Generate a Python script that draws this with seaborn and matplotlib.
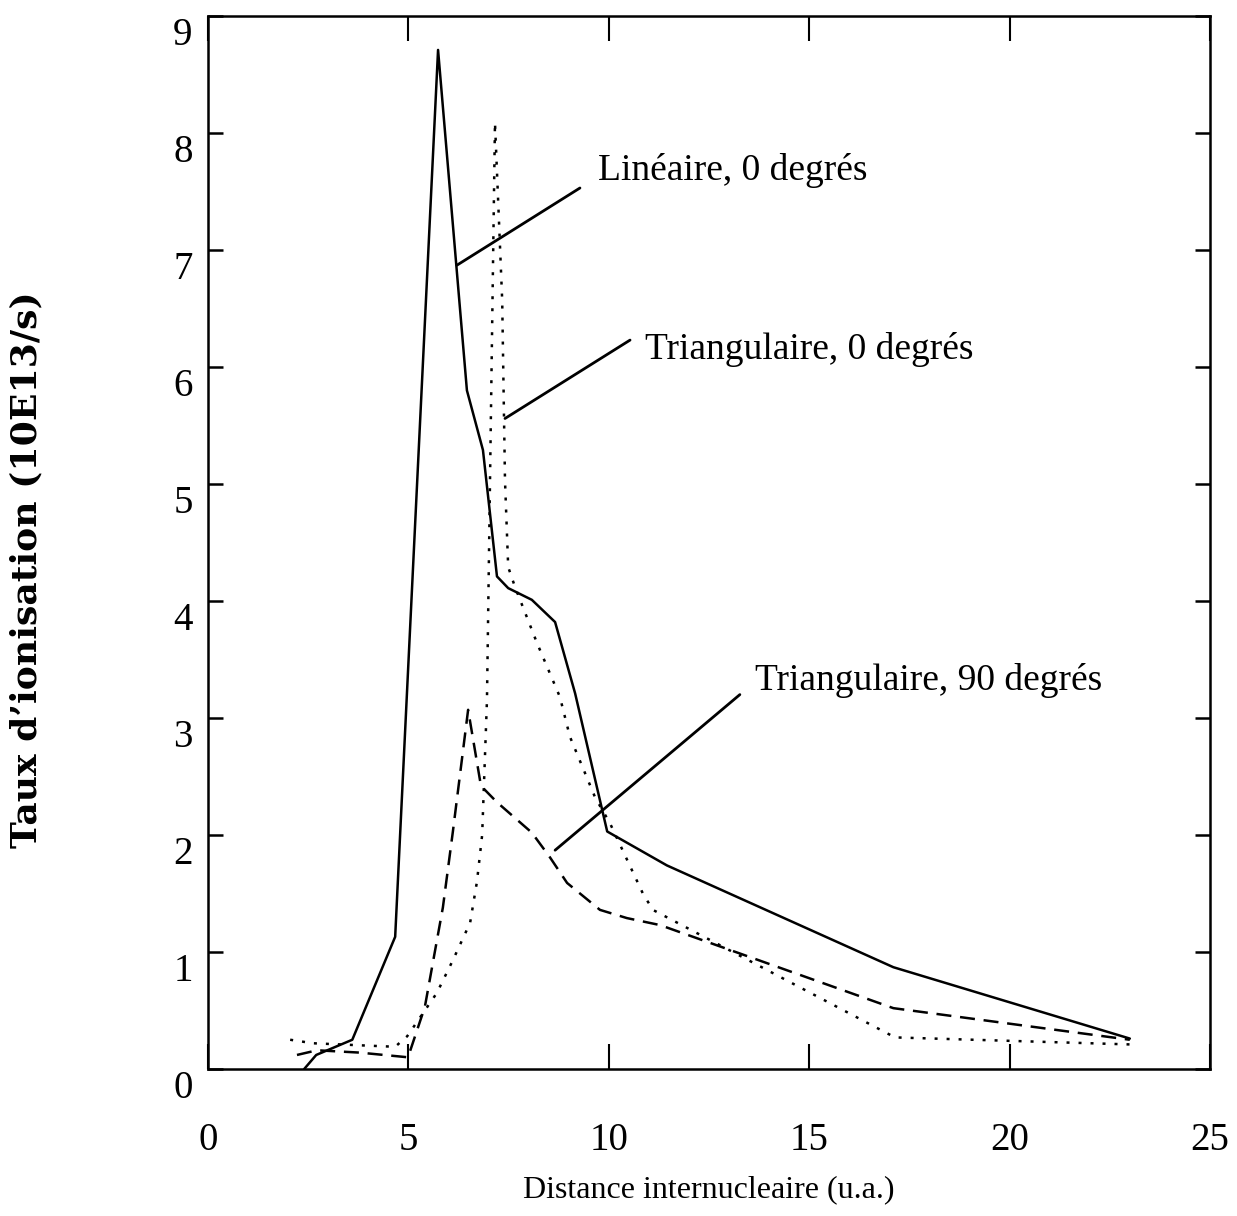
import matplotlib
matplotlib.use("Agg")
import matplotlib.pyplot as plt
import matplotlib.transforms as mtransforms
import seaborn as sns
import pandas as pd

# ---- data ----
lin_x = [2.4, 2.7, 3.6, 4.67, 5.74, 6.46, 6.86, 7.21, 7.49, 8.08, 8.66, 9.16, 9.96, 11.45, 17.1, 23.0]
lin_y = [0.0, 0.12, 0.25, 1.13, 8.71, 5.80, 5.29, 4.21, 4.11, 4.01, 3.82, 3.21, 2.03, 1.74, 0.87, 0.26]

tri0_x = [2.05, 2.62, 3.97, 4.67, 4.97, 5.71, 6.11, 6.54, 6.71, 6.84, 6.96, 7.16, 7.34, 7.41, 7.49, 7.66,
          8.21, 8.78, 9.03, 9.66, 10.03, 10.85, 11.1, 17.14, 23.0]
tri0_y = [0.25, 0.22, 0.20, 0.19, 0.28, 0.65, 0.93, 1.25, 1.6, 2.0, 3.15, 8.09, 6.57, 5.03, 4.29, 4.12,
          3.64, 3.18, 2.84, 2.32, 2.10, 1.50, 1.36, 0.27, 0.21]

tri90_x = [2.22, 2.72, 3.79, 4.99, 5.41, 5.86, 6.11, 6.49, 6.81, 7.21, 8.08, 8.53, 8.96, 9.78, 10.45,
           11.28, 17.1, 23.0]
tri90_y = [0.12, 0.16, 0.14, 0.10, 0.53, 1.38, 2.03, 3.07, 2.42, 2.28, 2.02, 1.81, 1.59, 1.36, 1.29,
           1.23, 0.52, 0.25]

labels = ["Linéaire, 0 degrés", "Triangulaire, 0 degrés", "Triangulaire, 90 degrés"]
# annotation pointer lines (start on curve, end near text) and text anchor
ann_start = [(6.21, 6.87), (7.41, 5.56), (8.66, 1.87)]
ann_end = [(9.28, 7.53), (10.53, 6.23), (13.27, 3.20)]
ann_text = [(9.73, 7.68), (10.9, 6.15), (13.65, 3.32)]

x_ticks = [0, 5, 10, 15, 20, 25]
y_ticks = [0, 1, 2, 3, 4, 5, 6, 7, 8, 9]

xlabel = "Distance internucleaire (u.a.)"
ylabel = "Taux d\u2019ionisation (10E13/s)"

# ---- plotting ----
sns.set_style("ticks")
plt.rcParams["font.family"] = ["Liberation Serif", "DejaVu Serif"]

fig = plt.figure(figsize=(12.37, 12.16), dpi=100)
ax = fig.add_axes([208 / 1237, 1 - 1069 / 1216, (1210 - 208) / 1237, (1069 - 16) / 1216])

lw = 1.8
df_lin = pd.DataFrame({"x": lin_x, "y": lin_y})
df_t0 = pd.DataFrame({"x": tri0_x, "y": tri0_y})
df_t90 = pd.DataFrame({"x": tri90_x, "y": tri90_y})

sns.lineplot(data=df_lin, x="x", y="y", ax=ax, color="black", lw=lw, estimator=None, sort=False)
sns.lineplot(data=df_t0, x="x", y="y", ax=ax, color="black", lw=lw, estimator=None, sort=False)
sns.lineplot(data=df_t90, x="x", y="y", ax=ax, color="black", lw=lw, estimator=None, sort=False)
ax.lines[1].set_dashes((1.2, 3.6))
ax.lines[2].set_dashes((6, 3.5))

for (sx, sy), (ex, ey), (tx, ty), lab in zip(ann_start, ann_end, ann_text, labels):
    ax.plot([sx, ex], [sy, ey], color="black", lw=2.0)
    ax.text(tx, ty, lab, fontsize=27, ha="left", va="center", color="black")

ax.set_xlim(0, 25)
ax.set_ylim(0, 9)
ax.set_xticks(x_ticks)
ax.set_yticks(y_ticks)
ax.set_xticklabels([str(t) for t in x_ticks])
ax.set_yticklabels([str(t) for t in y_ticks])

for sp in ax.spines.values():
    sp.set_visible(True)
    sp.set_linewidth(1.8)
    sp.set_color("black")

ax.tick_params(axis="x", which="both", direction="in", length=18, width=1.5, top=True, bottom=True,
               labelsize=28, pad=38, colors="black")
ax.tick_params(axis="y", which="both", direction="in", length=11, width=1.8, left=True, right=True,
               labelsize=28, pad=11, colors="black")

offset = mtransforms.ScaledTranslation(0, -15 / 100, fig.dpi_scale_trans)
for lab in ax.get_yticklabels():
    lab.set_transform(lab.get_transform() + offset)

ax.set_xlabel(xlabel, fontsize=23, labelpad=12, color="black")
ax.set_ylabel("")
fig.text(26 / 1237, 1 - 570 / 1216, ylabel, rotation=90, ha="center", va="center",
         fontsize=26, fontweight="bold", family=["DejaVu Serif"], color="black")

ax.grid(False)
fig.savefig("out.png", dpi=100, facecolor="white")
